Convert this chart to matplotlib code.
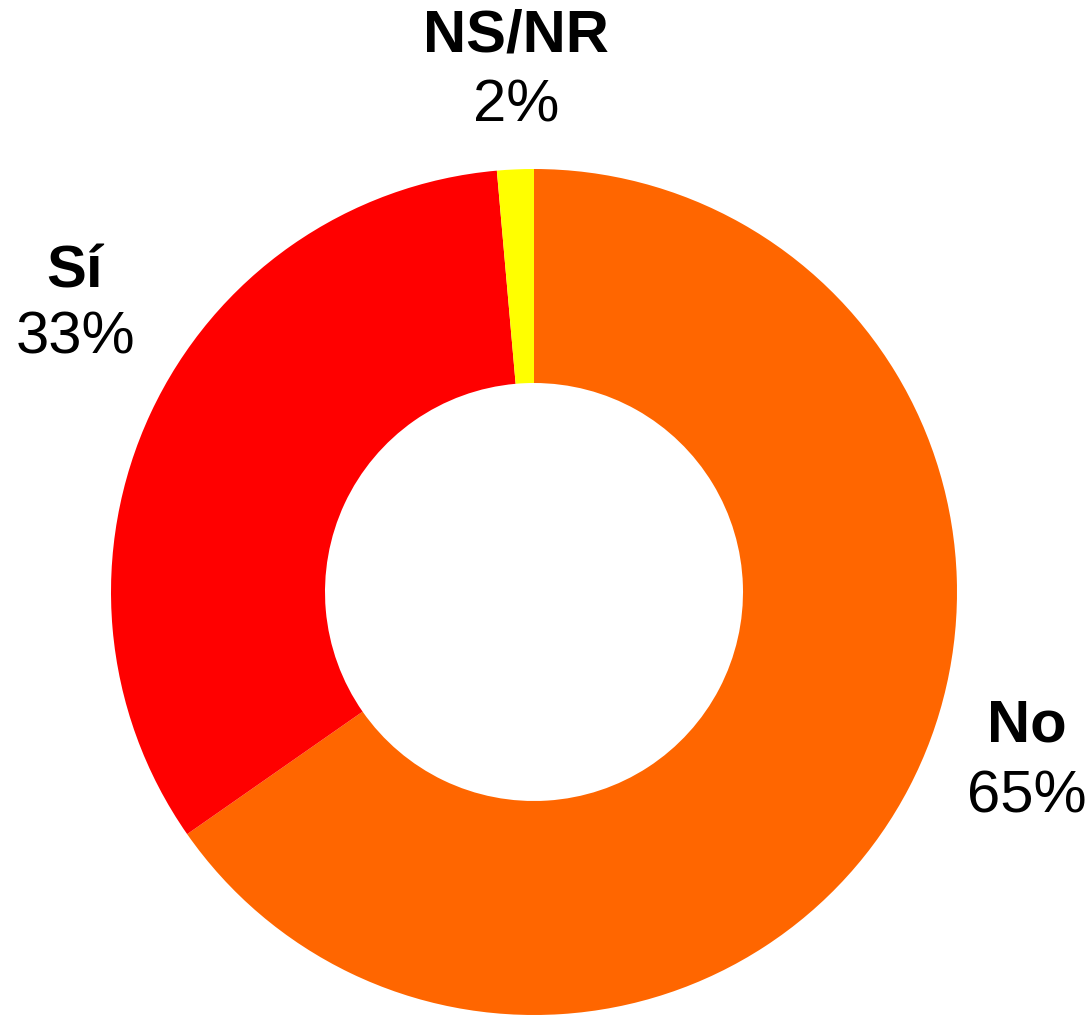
import matplotlib
matplotlib.use("Agg")
import matplotlib.pyplot as plt

plt.rcParams['font.family'] = ['Liberation Sans', 'DejaVu Sans']

# ---- data ----
categories = ["No", "Sí", "NS/NR"]
# slice sizes as drawn in the reference (the printed labels are rounded)
shares = [65.3, 33.3, 1.4]
pct_labels = ["65%", "33%", "2%"]
colors = ["#FF6600", "#FF0000", "#FFFF00"]

W, H = 1088, 1023
fig = plt.figure(figsize=(W / 100, H / 100), dpi=100)
ax = fig.add_axes([0, 0, 1, 1])

# donut, clockwise from 12 o'clock
cx, cy = 534, H - 592
r_out, ring = 423, 214
ax.pie(shares, colors=colors, startangle=90, counterclock=False,
       radius=r_out, center=(cx, cy),
       wedgeprops=dict(width=ring, linewidth=0))

ax.set_xlim(0, W)
ax.set_ylim(0, H)
ax.set_aspect('equal')
ax.axis('off')

# labels: (x, name y, pct y) in pixel coords from top
label_pos = {"NS/NR": (516, 36, 106), "Sí": (75, 272, 338), "No": (1027, 726, 797)}
for name, pct in zip(categories, pct_labels):
    x, y1, y2 = label_pos[name]
    ax.text(x, H - y1, name, ha='center', va='center',
            fontsize=43, fontweight='bold', color='black')
    ax.text(x, H - y2, pct, ha='center', va='center',
            fontsize=43, color='black')

fig.savefig("out.png", dpi=100)
